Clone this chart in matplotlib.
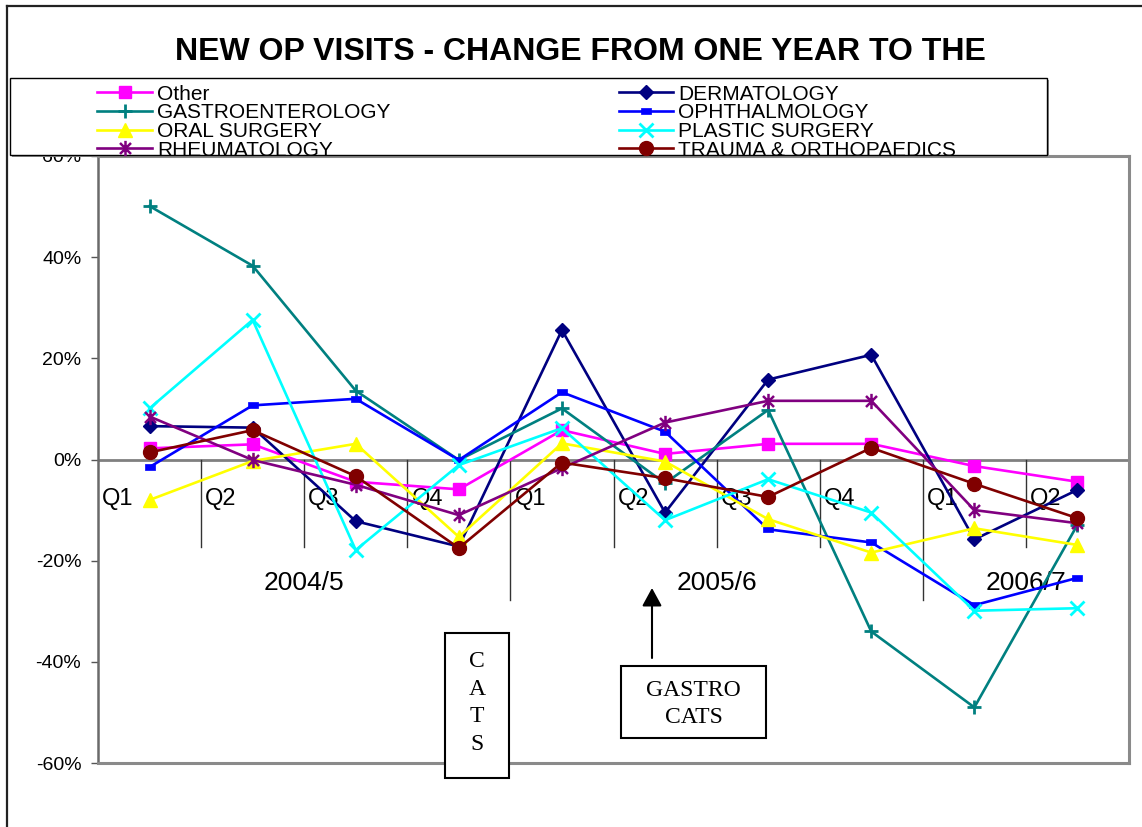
import matplotlib
matplotlib.use("Agg")
import matplotlib.pyplot as plt
from matplotlib.lines import Line2D
from matplotlib.patches import Rectangle
from matplotlib.path import Path

plt.rcParams['font.family'] = ['Liberation Sans', 'DejaVu Sans']

# ---------------- data ----------------
quarters = ['Q1', 'Q2', 'Q3', 'Q4', 'Q1', 'Q2', 'Q3', 'Q4', 'Q1', 'Q2']
years = ['2004/5', '2005/6', '2006/7']
quarters_per_year = [4, 4, 2]

other = [2.2, 3.0, -4.4, -5.9, 5.8, 1.1, 3.1, 3.1, -1.3, -4.4]
dermatology = [6.6, 6.3, -12.2, -17.2, 25.6, -10.5, 15.8, 20.7, -15.8, -6.0]
gastroenterology = [50.1, 38.3, 13.6, -0.1, 10.1, -4.7, 9.8, -34.0, -49.0, -12.9]
ophthalmology = [-1.5, 10.7, 12.0, -0.1, 13.3, 5.5, -13.8, -16.4, -28.8, -23.4]
oral_surgery = [-8.0, -0.3, 3.1, -15.3, 3.2, -0.4, -11.8, -18.4, -13.6, -16.9]
plastic_surgery = [10.1, 27.6, -17.9, -1.1, 6.2, -12.0, -3.9, -10.5, -29.9, -29.4]
rheumatology = [8.5, -0.1, -5.0, -11.0, -1.7, 7.3, 11.6, 11.6, -10.0, -12.6]
trauma_orthopaedics = [1.4, 5.8, -3.3, -17.5, -0.6, -3.7, -7.4, 2.3, -4.8, -11.6]

series_names = ['Other', 'DERMATOLOGY', 'GASTROENTEROLOGY', 'OPHTHALMOLOGY',
                'ORAL SURGERY', 'PLASTIC SURGERY', 'RHEUMATOLOGY',
                'TRAUMA & ORTHOPAEDICS']
series_values = [other, dermatology, gastroenterology, ophthalmology,
                 oral_surgery, plastic_surgery, rheumatology, trauma_orthopaedics]

y_ticks = [-60, -40, -20, 0, 20, 40, 60]

# ---------------- styles ----------------
star_path = Path([(0, -1), (0, 1), (-0.72, -0.72), (0.72, 0.72), (-0.72, 0.72), (0.72, -0.72)],
                 [Path.MOVETO, Path.LINETO, Path.MOVETO, Path.LINETO, Path.MOVETO, Path.LINETO])
dash_path = Path([(-1, -0.55), (1, -0.55), (1, 0.55), (-1, 0.55), (-1, -0.55)], closed=True)

styles = [
    dict(color='#FF00FF', marker='s', ms=8.5, mfc='#FF00FF', mec='#FF00FF', mew=1),
    dict(color='#000080', marker='D', ms=7.2, mfc='#000080', mec='#000080', mew=1),
    dict(color='#008080', marker='+', ms=10.5, mfc='none', mec='#008080', mew=2),
    dict(color='#0000FF', marker=dash_path, ms=6.8, mfc='#0000FF', mec='#0000FF', mew=0.5),
    dict(color='#FFFF00', marker='^', ms=10.5, mfc='#FFFF00', mec='#FFFF00', mew=1),
    dict(color='#00FFFF', marker='x', ms=9.5, mfc='none', mec='#00FFFF', mew=2),
    dict(color='#800080', marker=star_path, ms=11, mfc='none', mec='#800080', mew=1.8),
    dict(color='#800000', marker='o', ms=10, mfc='#800000', mec='#800000', mew=1),
]
LW = 1.9

W, H = 1142, 827
fig = plt.figure(figsize=(W / 100, H / 100), dpi=100)
fig.patch.set_facecolor('white')


def fx(x):
    return x / W


def fy(y):
    return 1 - y / H


ax = fig.add_axes([fx(98), fy(763), (1129 - 98) / W, (763 - 156) / H])

n = len(quarters)
xs = list(range(n))
for name, vals, st in zip(series_names, series_values, styles):
    ax.plot(xs, vals, color=st['color'], lw=LW, marker=st['marker'], ms=st['ms'],
            mfc=st['mfc'], mec=st['mec'], mew=st['mew'], label=name, zorder=3,
            clip_on=False)

ax.set_xlim(-0.5, n - 0.5)
ax.set_ylim(y_ticks[0], y_ticks[-1])
ax.set_yticks(y_ticks)
ax.set_yticklabels([f'{t}%' for t in y_ticks], fontsize=14)
ax.set_xticks([])
ax.tick_params(axis='y', direction='out', length=5, width=1, color='#555555', pad=7)

for side in ['top', 'right', 'bottom']:
    ax.spines[side].set_color('#8a8a8a')
    ax.spines[side].set_linewidth(2.2)
ax.spines['left'].set_color('#6a6a6a')
ax.spines['left'].set_linewidth(1.8)

ax.axhline(0, color='#808080', lw=2, zorder=2)

# category axis: quarter labels, separators, year labels
q_label_y = -7.8
year_label_y = -24.4
short_end = -17.3
long_end = -27.8
year_bounds = []
acc = 0
for c in quarters_per_year:
    acc += c
    year_bounds.append(acc)

for k in range(1, n + 1):
    end = long_end if k in year_bounds else short_end
    ax.plot([k - 0.5, k - 0.5], [0, end], color='#333333', lw=1, clip_on=False, zorder=2)

for k, q in enumerate(quarters):
    ax.text(k - 0.5 + 0.04, q_label_y, q, fontsize=17, ha='left', va='center', zorder=1)

start = 0
for yl, c in zip(years, quarters_per_year):
    ax.text(start - 0.5 + c / 2, year_label_y, yl, fontsize=19, ha='center', va='center',
            zorder=1)
    start += c

# ---------------- figure decorations ----------------
fig.add_artist(Line2D([fx(7), fx(7)], [0, fy(6)], transform=fig.transFigure,
                      color='#222222', lw=1.6))
fig.add_artist(Line2D([fx(7), 1], [fy(6), fy(6)], transform=fig.transFigure,
                      color='#222222', lw=1.6))

fig.text(fx(580), fy(37), 'NEW OP VISITS - CHANGE FROM ONE YEAR TO THE',
         fontsize=23, fontweight='bold', ha='center', va='top', zorder=1)

# legend box (manual, to match the original layout)
fig.add_artist(Rectangle((fx(12), fy(157)), (1047 - 10) / W, (155 - 78) / H,
                         transform=fig.transFigure, facecolor='#909090',
                         edgecolor='none', zorder=9))
fig.add_artist(Rectangle((fx(10), fy(155)), (1047 - 10) / W, (155 - 78) / H,
                         transform=fig.transFigure, facecolor='white',
                         edgecolor='black', lw=1, zorder=10))

legend_order = [0, 2, 4, 6, 1, 3, 5, 7]
row_y = [92, 111, 129.5, 148]
col_x = [(97, 152, 157), (619, 673, 678)]
for pos, idx in enumerate(legend_order):
    col, row = divmod(pos, 4)
    x0, x1, xt = col_x[col]
    y = row_y[row]
    st = styles[idx]
    fig.add_artist(Line2D([fx(x0), fx(x1)], [fy(y), fy(y)], transform=fig.transFigure,
                          color=st['color'], lw=LW, zorder=11))
    fig.add_artist(Line2D([fx((x0 + x1) / 2)], [fy(y)], transform=fig.transFigure,
                          lw=0, marker=st['marker'], ms=st['ms'], mfc=st['mfc'],
                          mec=st['mec'], mew=st['mew'], zorder=12))
    fig.text(fx(xt), fy(y + 7.5), series_names[idx], fontsize=15, ha='left',
             va='baseline', zorder=12)

# CATS annotation boxes
fig.add_artist(Rectangle((fx(445), fy(778)), (509 - 445) / W, (778 - 633) / H,
                         transform=fig.transFigure, facecolor='white',
                         edgecolor='black', lw=1.5, zorder=10))
fig.text(fx(477), fy(703), 'C\nA\nT\nS', family=['Liberation Serif', 'DejaVu Serif'],
         fontsize=17, ha='center', va='center', linespacing=1.42, zorder=11)

fig.add_artist(Rectangle((fx(621), fy(738)), (766 - 621) / W, (738 - 666) / H,
                         transform=fig.transFigure, facecolor='white',
                         edgecolor='black', lw=1.5, zorder=10))
fig.text(fx(693.5), fy(704), 'GASTRO\nCATS', family=['Liberation Serif', 'DejaVu Serif'],
         fontsize=17, ha='center', va='center', linespacing=1.42, zorder=11)

fig.add_artist(matplotlib.patches.FancyArrowPatch(
    (fx(652), fy(658)), (fx(652), fy(588)), transform=fig.transFigure,
    arrowstyle='-|>,head_length=0.55,head_width=0.3', mutation_scale=20,
    color='black', lw=1.5, shrinkA=0, shrinkB=0, zorder=11))

fig.savefig('out.png', dpi=100, facecolor='white')
